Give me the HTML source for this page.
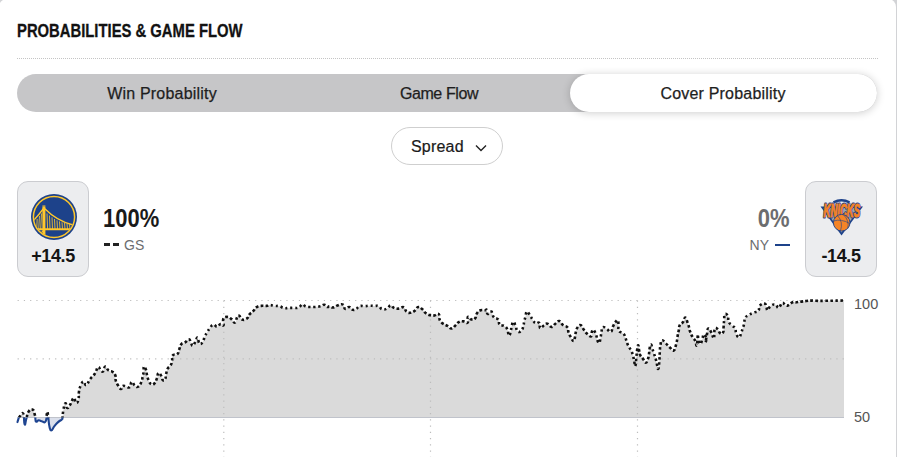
<!DOCTYPE html>
<html><head><meta charset="utf-8">
<style>
html,body{margin:0;padding:0;}
body{width:897px;height:457px;overflow:hidden;background:#d2d3d6;position:relative;font-family:"Liberation Sans",sans-serif;color:#1a1a1a;}
.card{position:absolute;left:-1px;top:-1px;width:897px;height:470px;background:#fff;border-radius:8px;}
.abs{position:absolute;}
.title{left:17px;top:20px;font-weight:bold;font-size:18px;line-height:22px;white-space:nowrap;transform-origin:0 0;transform:scaleX(0.823);color:#121212;letter-spacing:0px;-webkit-text-stroke:0.3px #121212;}
.hr{left:17px;top:58px;width:861px;height:0;border-top:1px dotted #c4c4c4;}
.tabs{left:17px;top:74px;width:860px;height:38px;background:#c6c6c8;border-radius:19px;}
.tab{position:absolute;top:1px;height:38px;line-height:38px;text-align:center;font-size:16px;color:#1e1e1e;-webkit-text-stroke:0.25px #1e1e1e;}
.active{position:absolute;left:553px;top:0;width:307px;height:38px;background:#fff;border-radius:19px;box-shadow:0 1px 9px rgba(0,0,0,.2);}
.spread{left:391px;top:127px;width:110px;height:36px;border:1px solid #cfcfcf;border-radius:19px;background:#fff;}
.team{top:181px;width:70px;height:94px;background:#ecedef;border:1px solid #cbccd0;border-radius:11px;}
.odds{position:absolute;left:0;width:70px;top:64px;text-align:center;font-weight:bold;font-size:18px;line-height:20px;color:#151515;letter-spacing:-0.4px;}
.pct{font-weight:bold;font-size:26px;line-height:28px;white-space:nowrap;transform:scaleX(0.845);}
.abbr{font-size:14px;line-height:16px;color:#6c6d6f;white-space:nowrap;}
.lbl{font-size:15px;line-height:16px;color:#48494a;}
</style></head><body>
<div class="card"></div>
<div class="abs title">PROBABILITIES &amp; GAME FLOW</div>
<div class="abs hr"></div>
<div class="abs tabs">
  <div class="tab" style="left:45px;width:200px;letter-spacing:0.2px;">Win Probability</div>
  <div class="tab" style="left:322px;width:200px;letter-spacing:-0.4px;">Game Flow</div>
  <div class="active"></div>
  <div class="tab" style="left:606px;width:200px;letter-spacing:0.2px;">Cover Probability</div>
</div>
<div class="abs spread">
  <div class="abs" style="left:19px;top:0;height:36px;line-height:37px;font-size:16px;letter-spacing:0.2px;color:#1a1a1a;-webkit-text-stroke:0.2px #1a1a1a;">Spread</div>
  <svg class="abs" style="left:83px;top:16px" width="12" height="8" viewBox="0 0 12 8"><path d="M1,1.5 L6,6.5 L11,1.5" fill="none" stroke="#222" stroke-width="1.4"/></svg>
</div>

<div class="abs team" style="left:17px;">
  <svg class="abs" style="left:13px;top:12px" width="46" height="46" viewBox="0 0 46 46">
    <defs><clipPath id="gsc"><circle cx="23" cy="23" r="20"/></clipPath></defs>
    <circle cx="23" cy="23" r="23" fill="#1d428a"/>
    <g stroke="#ffc72c" fill="none" clip-path="url(#gsc)">
      <path d="M0,35.2 L46,35.2" stroke-width="2"/>
      <path d="M12.9,13 L12.9,45" stroke-width="3"/>
      <path d="M11.4,12.2 L14.4,12.2" stroke-width="1.2"/>
      <path d="M13.5,14.5 Q26,27 42,31" stroke-width="1.4"/>
      <path d="M12.5,14.5 Q7,22 1,28" stroke-width="1.3"/>
      <path d="M16,19.5 L16.6,35 M18.5,21.5 L19,35 M21,23.3 L21.5,35 M23.5,25 L24,35 M26,26.3 L26.5,35 M28.5,27.4 L29,35 M31,28.3 L31.5,35 M33.5,29 L34,35 M36,29.7 L36.5,35 M38.5,30.3 L39,35" stroke-width="0.85"/>
      <path d="M10.5,19.5 L9.7,35 M8.5,22 L7.7,35 M6.2,25 L5.7,35" stroke-width="0.85"/>
      <path d="M8,41 Q10.5,37 12.9,37" stroke-width="1"/>
    </g>
    <circle cx="23" cy="23" r="20.6" fill="none" stroke="#ffc72c" stroke-width="1.5"/>
  </svg>
  <div class="odds">+14.5</div>
</div>
<div class="abs pct" style="left:103px;top:204px;transform-origin:0 0;">100%</div>
<div class="abs" style="left:104px;top:243px;width:6px;height:3px;background:#222;"></div>
<div class="abs" style="left:113px;top:243px;width:6px;height:3px;background:#222;"></div>
<div class="abs abbr" style="left:124px;top:237px;">GS</div>

<div class="abs pct" style="right:107px;top:204px;color:#6c6d6f;transform-origin:100% 0;">0%</div>
<div class="abs abbr" style="right:128px;top:237px;">NY</div>
<div class="abs" style="left:775px;top:244px;width:15px;height:2px;background:#1d428a;"></div>

<div class="abs team" style="left:805px;">
  <svg class="abs" style="left:14px;top:16px" width="44" height="40" viewBox="0 0 44 40">
    <path d="M0.5,8.5 L43,8.5 L21.5,37.5 Z" fill="#1d428a"/>
    <path d="M3.5,10 L40,10 L21.5,34.5 Z" fill="#a3a8ab"/>
    <path d="M13.5,4.3 Q21.5,0.3 29.5,4.3" fill="none" stroke="#1d428a" stroke-width="2.6"/>
    <g transform="translate(21.8,19.4) scale(0.5,1)" font-family="Liberation Sans" font-weight="bold" font-style="italic" font-size="19" text-anchor="middle"><text x="0" y="0" fill="#1d428a" stroke="#1d428a" stroke-width="3.2" stroke-linejoin="round">KNICKS</text><text x="0" y="0" fill="#f58426" stroke="#f58426" stroke-width="1.2">KNICKS</text></g>
    <circle cx="21.7" cy="24.7" r="8.3" fill="#f58426" stroke="#1d428a" stroke-width="0.9"/>
    <path d="M13.6,23 Q21,20.5 29.8,25.5 M17.5,17.5 Q23.5,24 20.5,32.8 M23.5,16.7 Q29.5,22.5 27.8,30.5" fill="none" stroke="#1d428a" stroke-width="0.6"/>
  </svg>
  <div class="odds">-14.5</div>
</div>

<svg class="abs" style="left:0;top:0" width="897" height="457" viewBox="0 0 897 457">
  <defs>
    <clipPath id="above"><rect x="0" y="0" width="897" height="417.5"/></clipPath>
    <clipPath id="below"><rect x="0" y="417.5" width="897" height="100"/></clipPath>
  </defs>
  <path d="M17.5,422.1 C17.7,421.3 17.8,420.6 18.4,419.1 C19.0,417.6 18.4,418.0 19.7,416.6 C21.0,415.2 21.9,411.7 23.2,413.8 C24.5,415.9 23.7,423.2 24.6,424.4 C25.5,425.6 25.3,421.8 26.4,418.4 C27.5,415.0 27.0,413.8 28.7,411.5 C30.4,409.2 31.2,409.0 32.8,409.7 C34.4,410.4 34.0,412.1 34.7,414.3 C35.4,416.5 34.9,416.0 35.3,418.0 C35.7,420.0 35.2,421.1 36.1,421.7 C37.0,422.3 37.3,420.4 38.8,420.3 C40.3,420.2 39.8,421.0 41.6,421.2 C43.4,421.4 44.2,423.7 45.7,421.2 C47.2,418.7 46.4,413.1 47.1,412.0 C47.8,410.9 47.6,413.2 48.2,417.0 C48.8,420.8 48.6,422.6 49.4,426.2 C50.2,429.8 49.9,430.4 51.2,430.4 C52.5,430.4 52.6,428.4 54.4,426.2 C56.2,424.0 56.1,423.9 58.1,422.1 C60.1,420.3 60.6,420.6 61.8,419.4 C63.0,418.2 62.1,419.9 62.5,417.5 C62.9,415.1 62.6,414.3 63.3,410.5 C64.0,406.7 64.3,404.0 65.3,403.3 C66.3,402.6 66.0,407.4 67.2,407.9 C68.4,408.4 68.0,407.9 69.8,405.3 C71.6,402.7 72.2,398.7 73.8,398.0 C75.4,397.3 74.6,402.2 75.8,402.7 C77.0,403.2 77.5,403.0 78.4,400.0 C79.3,397.0 78.3,395.5 79.0,391.5 C79.7,387.5 79.8,387.6 81.0,385.0 C82.2,382.4 82.2,381.7 83.6,381.7 C85.0,381.7 84.5,385.7 86.3,385.0 C88.1,384.3 87.9,382.0 90.2,379.0 C92.5,376.0 92.7,376.9 94.8,373.8 C96.9,370.7 96.5,368.1 98.1,367.2 C99.7,366.3 99.3,369.4 100.7,370.5 C102.1,371.6 102.1,372.2 103.3,371.2 C104.5,370.2 103.9,366.8 105.3,366.6 C106.7,366.4 106.7,369.1 108.6,370.5 C110.5,371.9 110.7,370.5 112.5,371.8 C114.3,373.1 114.4,373.0 115.3,375.3 C116.2,377.6 115.1,377.8 115.7,380.3 C116.3,382.8 116.1,382.2 117.5,384.5 C118.9,386.8 119.5,388.5 120.9,388.9 C122.3,389.3 121.6,386.7 122.9,386.0 C124.2,385.3 124.0,386.0 125.8,386.3 C127.6,386.6 128.0,388.3 129.6,387.2 C131.2,386.1 130.3,382.5 131.7,382.0 C133.1,381.5 133.0,384.0 134.7,385.3 C136.4,386.6 136.4,387.6 138.2,386.7 C140.0,385.8 140.2,384.6 141.4,382.0 C142.6,379.4 142.0,379.8 142.6,377.1 C143.2,374.4 143.3,374.5 143.6,371.7 C143.9,368.9 143.3,367.2 143.9,366.7 C144.5,366.2 145.2,367.5 146.0,369.7 C146.8,371.9 146.3,372.4 147.0,375.1 C147.7,377.8 147.4,377.5 148.5,380.0 C149.6,382.5 149.7,383.4 151.3,384.3 C152.9,385.2 152.9,385.1 154.4,383.5 C155.9,381.9 155.9,381.1 156.9,378.4 C157.9,375.7 157.3,374.1 158.3,373.2 C159.3,372.3 159.6,373.3 160.8,375.1 C162.0,376.9 161.6,378.9 162.8,380.0 C164.0,381.1 164.3,380.8 165.2,379.1 C166.1,377.4 165.5,376.4 166.2,373.6 C166.9,370.8 166.5,370.9 167.7,368.7 C168.9,366.5 169.5,367.4 170.7,365.3 C171.9,363.2 171.6,363.4 172.1,360.8 C172.6,358.2 171.2,357.3 172.6,355.5 C174.0,353.7 175.4,355.8 177.2,354.2 C179.0,352.6 178.1,352.2 179.2,349.6 C180.3,347.0 179.6,346.3 181.2,344.4 C182.8,342.5 183.0,343.7 185.1,342.4 C187.2,341.1 187.4,339.2 189.0,339.4 C190.6,339.6 189.9,341.4 191.0,343.1 C192.1,344.8 191.8,346.2 193.0,345.7 C194.2,345.2 194.4,343.2 195.6,341.1 C196.8,339.0 196.6,337.1 197.6,337.8 C198.6,338.5 198.1,342.6 199.5,343.7 C200.9,344.8 201.4,343.7 202.8,341.8 C204.2,339.9 203.6,339.1 204.8,336.5 C206.0,333.9 206.0,334.2 207.4,331.9 C208.8,329.6 208.4,329.9 210.0,328.0 C211.6,326.1 211.4,325.0 213.3,324.7 C215.2,324.4 215.4,326.9 217.3,326.7 C219.2,326.5 218.8,324.4 220.5,324.0 C222.2,323.6 222.8,326.5 223.5,325.2 C224.2,323.9 222.4,321.3 223.3,319.1 C224.2,316.9 224.8,316.9 227.0,316.9 C229.2,316.9 229.3,317.6 231.4,319.1 C233.5,320.6 233.4,323.1 234.9,322.6 C236.4,322.1 236.0,319.1 237.1,317.3 C238.2,315.5 237.9,315.2 239.2,315.8 C240.5,316.4 239.9,318.8 241.9,319.5 C243.9,320.2 244.6,320.0 246.7,318.6 C248.8,317.2 248.0,316.2 249.7,314.2 C251.4,312.2 251.3,313.1 253.2,311.2 C255.1,309.3 254.6,308.6 256.7,307.2 C258.8,305.8 258.5,306.2 261.1,305.9 C263.7,305.6 264.1,306.1 266.4,305.9 C268.7,305.7 267.7,305.1 269.9,305.1 C272.1,305.1 272.1,305.6 274.7,305.9 C277.3,306.2 277.0,305.6 279.5,306.2 C282.0,306.8 281.4,307.6 283.9,308.1 C286.4,308.6 286.3,308.0 289.0,307.9 C291.7,307.8 291.3,308.0 293.9,307.9 C296.5,307.8 296.5,308.4 298.8,307.5 C301.1,306.6 300.5,304.6 302.4,304.4 C304.3,304.2 303.7,305.9 306.0,306.6 C308.3,307.3 308.3,306.9 310.9,307.0 C313.5,307.1 313.2,307.1 315.8,306.9 C318.4,306.7 318.4,306.8 320.7,306.2 C323.0,305.6 322.5,304.6 324.3,304.8 C326.1,305.0 326.0,306.6 327.4,307.0 C328.8,307.4 328.1,306.1 329.6,306.2 C331.1,306.3 330.9,307.7 333.2,307.5 C335.5,307.3 335.5,306.1 338.1,305.3 C340.7,304.5 341.1,303.7 343.0,304.6 C344.9,305.5 343.5,308.2 345.2,308.8 C346.9,309.4 347.2,306.8 349.2,307.0 C351.2,307.2 351.0,309.1 352.8,309.7 C354.6,310.3 354.1,310.2 355.9,309.3 C357.7,308.4 357.2,307.0 359.5,306.2 C361.8,305.4 361.9,306.3 364.5,306.2 C367.1,306.1 366.8,305.8 369.4,305.7 C372.0,305.6 371.8,305.9 374.3,306.0 C376.8,306.1 376.6,305.3 378.7,306.2 C380.8,307.1 380.0,308.7 382.3,309.3 C384.6,309.9 384.9,309.5 387.2,308.4 C389.5,307.3 389.0,305.4 390.8,305.3 C392.6,305.2 391.8,307.0 393.9,307.9 C396.0,308.8 396.2,308.8 398.8,308.6 C401.4,308.4 401.7,306.5 403.7,307.3 C405.7,308.1 404.6,310.0 406.4,311.5 C408.2,313.0 408.1,313.0 410.4,312.8 C412.7,312.6 412.8,312.1 414.9,310.6 C417.0,309.1 416.4,307.3 418.4,307.0 C420.4,306.7 420.4,307.6 422.4,309.3 C424.4,311.0 423.8,311.7 426.0,313.3 C428.2,314.9 428.1,314.8 430.5,315.3 C432.9,315.8 432.9,315.7 434.9,315.3 C436.9,314.9 436.9,313.6 438.1,313.8 C439.3,314.0 439.0,314.3 439.5,316.1 C440.0,317.9 439.0,318.5 439.9,320.5 C440.8,322.5 441.0,322.2 443.0,323.6 C445.0,325.0 445.2,324.6 447.5,325.9 C449.8,327.2 449.4,328.6 451.5,328.5 C453.6,328.4 453.5,327.2 455.5,325.4 C457.5,323.6 457.0,323.0 459.1,321.9 C461.2,320.8 461.2,321.2 463.5,321.4 C465.8,321.6 466.4,323.9 467.6,322.7 C468.8,321.5 466.9,317.7 468.0,316.9 C469.1,316.1 469.7,319.2 471.6,319.6 C473.5,320.0 473.7,320.0 475.1,318.3 C476.5,316.6 475.5,315.5 476.9,313.4 C478.3,311.3 478.3,311.1 480.5,310.3 C482.7,309.5 483.3,310.4 485.0,310.3 C486.7,310.2 486.0,308.9 486.7,309.8 C487.4,310.7 486.4,313.3 487.6,313.8 C488.8,314.3 490.0,311.7 491.2,311.6 C492.4,311.5 491.3,311.7 492.1,313.4 C492.9,315.1 492.6,316.1 494.3,317.8 C496.0,319.5 496.9,317.7 498.3,319.6 C499.7,321.5 498.2,323.3 499.7,325.0 C501.2,326.7 502.1,324.8 504.1,325.9 C506.1,327.0 505.9,326.5 507.2,329.1 C508.5,331.7 508.0,335.0 509.0,335.5 C510.0,336.0 510.1,333.4 510.8,330.9 C511.5,328.4 511.0,328.4 511.7,326.0 C512.4,323.6 512.4,321.9 513.5,322.0 C514.6,322.1 514.6,323.9 515.7,326.4 C516.8,328.9 516.1,330.1 517.5,331.3 C518.9,332.5 519.6,332.2 521.1,330.9 C522.6,329.6 522.5,328.9 523.3,326.4 C524.1,323.9 523.6,324.1 524.2,321.5 C524.8,318.9 524.8,319.2 525.5,316.6 C526.2,314.0 525.7,312.0 526.9,311.7 C528.1,311.4 528.5,313.4 530.0,315.5 C531.5,317.6 531.2,317.6 532.7,319.7 C534.2,321.8 534.0,322.5 535.8,323.3 C537.6,324.1 538.1,321.5 539.3,322.8 C540.5,324.1 539.0,327.5 540.2,328.2 C541.4,328.9 541.9,326.7 543.8,325.5 C545.7,324.3 545.4,323.3 547.4,323.7 C549.4,324.1 549.3,326.9 551.4,326.9 C553.5,326.9 553.3,325.2 555.4,323.7 C557.5,322.2 557.4,320.7 559.4,321.1 C561.4,321.5 560.9,323.4 563.0,325.1 C565.1,326.8 565.9,325.4 567.4,327.3 C568.9,329.2 567.6,329.7 568.5,332.2 C569.4,334.7 569.2,334.3 570.6,336.7 C572.0,339.1 572.5,341.0 573.7,341.1 C574.9,341.2 574.4,339.6 575.0,337.1 C575.6,334.6 575.2,334.4 575.9,331.8 C576.6,329.2 576.4,329.0 577.7,327.3 C579.0,325.6 579.1,324.6 580.8,325.3 C582.5,326.0 582.3,327.8 584.0,330.0 C585.7,332.2 585.2,332.0 587.1,333.7 C589.0,335.4 589.9,336.8 591.2,336.2 C592.5,335.6 591.3,332.8 592.0,331.3 C592.7,329.8 592.7,329.4 593.8,330.4 C594.9,331.4 595.1,332.3 596.1,334.9 C597.1,337.5 596.6,338.1 597.4,340.2 C598.2,342.3 598.4,343.5 599.2,342.9 C600.0,342.3 599.9,340.7 600.5,338.0 C601.1,335.3 600.8,335.6 601.4,332.7 C602.0,329.8 601.3,328.3 602.7,327.3 C604.1,326.3 604.6,327.9 606.8,329.1 C609.0,330.3 609.1,332.5 610.8,331.8 C612.5,331.1 611.8,328.9 613.0,326.4 C614.2,323.9 613.9,323.9 615.2,322.4 C616.5,320.9 617.0,319.5 617.9,320.6 C618.8,321.7 618.2,323.7 618.4,326.4 C618.6,329.1 617.5,329.0 618.8,330.9 C620.1,332.8 621.5,331.6 623.3,333.5 C625.1,335.4 624.5,335.3 625.5,337.9 C626.5,340.5 626.1,340.6 627.1,343.1 C628.1,345.6 628.1,345.2 629.3,347.4 C630.5,349.6 630.5,349.0 631.5,351.3 C632.5,353.6 632.4,353.6 633.1,356.2 C633.8,358.8 633.6,358.5 634.2,361.1 C634.8,363.7 634.7,367.2 635.3,366.0 C635.9,364.8 635.9,360.8 636.4,356.7 C636.9,352.6 636.5,353.8 637.0,350.7 C637.5,347.6 637.5,345.3 638.1,345.2 C638.7,345.1 638.5,347.6 639.1,350.2 C639.7,352.8 639.2,352.8 640.2,355.1 C641.2,357.4 641.5,356.9 643.0,358.9 C644.5,360.9 644.4,362.7 645.7,362.7 C647.0,362.7 647.0,361.2 647.9,358.9 C648.8,356.6 648.6,356.6 649.0,354.0 C649.4,351.4 649.0,351.6 649.5,349.1 C650.0,346.6 650.2,344.7 650.9,344.5 C651.6,344.3 651.5,346.1 652.3,348.5 C653.1,350.9 653.0,350.8 653.9,353.4 C654.8,356.0 654.9,355.8 655.6,358.4 C656.3,361.0 656.0,360.5 656.7,363.3 C657.4,366.1 657.6,369.7 658.3,368.8 C659.0,367.9 659.0,365.0 659.4,360.0 C659.8,355.0 659.6,354.3 659.9,350.2 C660.2,346.1 659.9,347.3 660.5,344.7 C661.1,342.1 660.6,340.6 662.1,340.3 C663.6,340.0 663.9,341.7 666.0,343.6 C668.1,345.5 667.7,345.6 669.8,347.4 C671.9,349.2 672.0,351.2 673.7,350.5 C675.4,349.8 675.1,347.7 676.0,344.9 C676.9,342.1 676.6,342.5 677.1,340.0 C677.6,337.5 677.2,338.2 677.7,335.6 C678.2,333.0 678.2,333.0 678.8,330.2 C679.4,327.4 678.7,327.4 679.8,325.2 C680.9,323.0 681.6,324.0 683.1,322.0 C684.6,320.0 684.1,317.5 685.3,317.6 C686.5,317.7 686.5,319.9 687.5,322.5 C688.5,325.1 688.4,324.9 689.1,327.4 C689.8,329.9 689.3,329.3 690.2,331.8 C691.1,334.3 691.1,334.4 692.4,336.7 C693.7,339.0 694.0,338.3 695.2,340.6 C696.4,342.9 696.1,346.9 696.8,345.3 C697.5,343.7 697.5,335.9 697.9,334.5 C698.3,333.1 697.7,337.5 698.4,340.0 C699.1,342.5 699.6,344.1 700.6,343.8 C701.6,343.5 701.4,341.4 702.3,338.9 C703.2,336.4 702.9,334.8 703.9,334.5 C704.9,334.2 705.6,335.7 706.1,337.8 C706.6,339.9 705.3,343.5 705.6,342.2 C705.9,340.9 706.5,336.6 707.2,332.9 C707.9,329.2 707.3,328.8 708.3,328.5 C709.3,328.2 709.5,329.2 711.0,331.8 C712.5,334.4 712.9,337.8 713.8,338.4 C714.7,339.0 714.0,336.6 714.3,334.0 C714.6,331.4 714.0,329.8 714.9,328.5 C715.8,327.2 716.2,327.8 717.6,329.1 C719.0,330.4 718.8,332.5 720.3,333.4 C721.8,334.3 722.2,334.1 723.1,332.4 C724.0,330.7 723.3,330.4 723.6,326.9 C723.9,323.4 723.9,322.6 724.2,319.2 C724.5,315.8 723.7,315.2 724.7,314.3 C725.7,313.4 727.0,314.1 728.0,316.0 C729.0,317.9 727.5,318.9 728.5,321.4 C729.5,323.9 730.0,323.3 731.8,325.2 C733.6,327.1 733.9,326.3 735.1,328.5 C736.3,330.7 735.2,331.1 736.2,333.4 C737.2,335.7 737.6,337.3 738.9,337.3 C740.2,337.3 740.1,335.9 741.1,333.4 C742.1,330.9 741.9,330.7 742.8,328.0 C743.7,325.3 743.8,325.7 744.4,323.1 C745.0,320.5 743.8,320.3 744.9,318.2 C746.0,316.1 746.3,316.6 748.6,315.1 C750.9,313.6 750.9,313.8 753.5,312.7 C756.1,311.6 756.8,312.6 758.4,310.8 C760.0,309.0 758.0,307.8 759.6,305.9 C761.2,304.0 762.7,303.2 764.5,303.5 C766.3,303.8 765.6,305.4 766.4,307.2 C767.2,309.0 766.5,310.5 767.6,310.2 C768.7,309.9 768.6,307.4 770.7,305.9 C772.8,304.4 773.5,304.2 775.6,304.7 C777.7,305.2 776.8,308.3 778.6,307.8 C780.4,307.3 780.5,303.6 782.3,302.9 C784.1,302.2 783.8,304.7 785.4,305.3 C787.0,305.9 786.5,306.1 788.4,305.3 C790.3,304.5 790.6,303.1 792.7,302.3 C794.8,301.5 794.1,302.5 796.4,302.3 C798.7,302.1 798.7,301.9 801.3,301.6 C803.9,301.3 803.6,301.3 806.2,301.0 C808.8,300.7 808.5,300.7 811.1,300.6 C813.7,300.5 812.1,300.7 816.0,300.8 C819.9,300.9 819.2,300.9 825.8,300.8 C832.4,300.7 835.7,300.7 840.6,300.6 C845.5,300.5 843.1,300.6 844.0,300.6 L844.0,417.5 L17.5,417.5 Z" fill="#dadada" clip-path="url(#above)"/>
  <path d="M17.5,422.1 C17.7,421.3 17.8,420.6 18.4,419.1 C19.0,417.6 18.4,418.0 19.7,416.6 C21.0,415.2 21.9,411.7 23.2,413.8 C24.5,415.9 23.7,423.2 24.6,424.4 C25.5,425.6 25.3,421.8 26.4,418.4 C27.5,415.0 27.0,413.8 28.7,411.5 C30.4,409.2 31.2,409.0 32.8,409.7 C34.4,410.4 34.0,412.1 34.7,414.3 C35.4,416.5 34.9,416.0 35.3,418.0 C35.7,420.0 35.2,421.1 36.1,421.7 C37.0,422.3 37.3,420.4 38.8,420.3 C40.3,420.2 39.8,421.0 41.6,421.2 C43.4,421.4 44.2,423.7 45.7,421.2 C47.2,418.7 46.4,413.1 47.1,412.0 C47.8,410.9 47.6,413.2 48.2,417.0 C48.8,420.8 48.6,422.6 49.4,426.2 C50.2,429.8 49.9,430.4 51.2,430.4 C52.5,430.4 52.6,428.4 54.4,426.2 C56.2,424.0 56.1,423.9 58.1,422.1 C60.1,420.3 60.6,420.6 61.8,419.4 C63.0,418.2 62.1,419.9 62.5,417.5 C62.9,415.1 62.6,414.3 63.3,410.5 C64.0,406.7 64.3,404.0 65.3,403.3 C66.3,402.6 66.0,407.4 67.2,407.9 C68.4,408.4 68.0,407.9 69.8,405.3 C71.6,402.7 72.2,398.7 73.8,398.0 C75.4,397.3 74.6,402.2 75.8,402.7 C77.0,403.2 77.5,403.0 78.4,400.0 C79.3,397.0 78.3,395.5 79.0,391.5 C79.7,387.5 79.8,387.6 81.0,385.0 C82.2,382.4 82.2,381.7 83.6,381.7 C85.0,381.7 84.5,385.7 86.3,385.0 C88.1,384.3 87.9,382.0 90.2,379.0 C92.5,376.0 92.7,376.9 94.8,373.8 C96.9,370.7 96.5,368.1 98.1,367.2 C99.7,366.3 99.3,369.4 100.7,370.5 C102.1,371.6 102.1,372.2 103.3,371.2 C104.5,370.2 103.9,366.8 105.3,366.6 C106.7,366.4 106.7,369.1 108.6,370.5 C110.5,371.9 110.7,370.5 112.5,371.8 C114.3,373.1 114.4,373.0 115.3,375.3 C116.2,377.6 115.1,377.8 115.7,380.3 C116.3,382.8 116.1,382.2 117.5,384.5 C118.9,386.8 119.5,388.5 120.9,388.9 C122.3,389.3 121.6,386.7 122.9,386.0 C124.2,385.3 124.0,386.0 125.8,386.3 C127.6,386.6 128.0,388.3 129.6,387.2 C131.2,386.1 130.3,382.5 131.7,382.0 C133.1,381.5 133.0,384.0 134.7,385.3 C136.4,386.6 136.4,387.6 138.2,386.7 C140.0,385.8 140.2,384.6 141.4,382.0 C142.6,379.4 142.0,379.8 142.6,377.1 C143.2,374.4 143.3,374.5 143.6,371.7 C143.9,368.9 143.3,367.2 143.9,366.7 C144.5,366.2 145.2,367.5 146.0,369.7 C146.8,371.9 146.3,372.4 147.0,375.1 C147.7,377.8 147.4,377.5 148.5,380.0 C149.6,382.5 149.7,383.4 151.3,384.3 C152.9,385.2 152.9,385.1 154.4,383.5 C155.9,381.9 155.9,381.1 156.9,378.4 C157.9,375.7 157.3,374.1 158.3,373.2 C159.3,372.3 159.6,373.3 160.8,375.1 C162.0,376.9 161.6,378.9 162.8,380.0 C164.0,381.1 164.3,380.8 165.2,379.1 C166.1,377.4 165.5,376.4 166.2,373.6 C166.9,370.8 166.5,370.9 167.7,368.7 C168.9,366.5 169.5,367.4 170.7,365.3 C171.9,363.2 171.6,363.4 172.1,360.8 C172.6,358.2 171.2,357.3 172.6,355.5 C174.0,353.7 175.4,355.8 177.2,354.2 C179.0,352.6 178.1,352.2 179.2,349.6 C180.3,347.0 179.6,346.3 181.2,344.4 C182.8,342.5 183.0,343.7 185.1,342.4 C187.2,341.1 187.4,339.2 189.0,339.4 C190.6,339.6 189.9,341.4 191.0,343.1 C192.1,344.8 191.8,346.2 193.0,345.7 C194.2,345.2 194.4,343.2 195.6,341.1 C196.8,339.0 196.6,337.1 197.6,337.8 C198.6,338.5 198.1,342.6 199.5,343.7 C200.9,344.8 201.4,343.7 202.8,341.8 C204.2,339.9 203.6,339.1 204.8,336.5 C206.0,333.9 206.0,334.2 207.4,331.9 C208.8,329.6 208.4,329.9 210.0,328.0 C211.6,326.1 211.4,325.0 213.3,324.7 C215.2,324.4 215.4,326.9 217.3,326.7 C219.2,326.5 218.8,324.4 220.5,324.0 C222.2,323.6 222.8,326.5 223.5,325.2 C224.2,323.9 222.4,321.3 223.3,319.1 C224.2,316.9 224.8,316.9 227.0,316.9 C229.2,316.9 229.3,317.6 231.4,319.1 C233.5,320.6 233.4,323.1 234.9,322.6 C236.4,322.1 236.0,319.1 237.1,317.3 C238.2,315.5 237.9,315.2 239.2,315.8 C240.5,316.4 239.9,318.8 241.9,319.5 C243.9,320.2 244.6,320.0 246.7,318.6 C248.8,317.2 248.0,316.2 249.7,314.2 C251.4,312.2 251.3,313.1 253.2,311.2 C255.1,309.3 254.6,308.6 256.7,307.2 C258.8,305.8 258.5,306.2 261.1,305.9 C263.7,305.6 264.1,306.1 266.4,305.9 C268.7,305.7 267.7,305.1 269.9,305.1 C272.1,305.1 272.1,305.6 274.7,305.9 C277.3,306.2 277.0,305.6 279.5,306.2 C282.0,306.8 281.4,307.6 283.9,308.1 C286.4,308.6 286.3,308.0 289.0,307.9 C291.7,307.8 291.3,308.0 293.9,307.9 C296.5,307.8 296.5,308.4 298.8,307.5 C301.1,306.6 300.5,304.6 302.4,304.4 C304.3,304.2 303.7,305.9 306.0,306.6 C308.3,307.3 308.3,306.9 310.9,307.0 C313.5,307.1 313.2,307.1 315.8,306.9 C318.4,306.7 318.4,306.8 320.7,306.2 C323.0,305.6 322.5,304.6 324.3,304.8 C326.1,305.0 326.0,306.6 327.4,307.0 C328.8,307.4 328.1,306.1 329.6,306.2 C331.1,306.3 330.9,307.7 333.2,307.5 C335.5,307.3 335.5,306.1 338.1,305.3 C340.7,304.5 341.1,303.7 343.0,304.6 C344.9,305.5 343.5,308.2 345.2,308.8 C346.9,309.4 347.2,306.8 349.2,307.0 C351.2,307.2 351.0,309.1 352.8,309.7 C354.6,310.3 354.1,310.2 355.9,309.3 C357.7,308.4 357.2,307.0 359.5,306.2 C361.8,305.4 361.9,306.3 364.5,306.2 C367.1,306.1 366.8,305.8 369.4,305.7 C372.0,305.6 371.8,305.9 374.3,306.0 C376.8,306.1 376.6,305.3 378.7,306.2 C380.8,307.1 380.0,308.7 382.3,309.3 C384.6,309.9 384.9,309.5 387.2,308.4 C389.5,307.3 389.0,305.4 390.8,305.3 C392.6,305.2 391.8,307.0 393.9,307.9 C396.0,308.8 396.2,308.8 398.8,308.6 C401.4,308.4 401.7,306.5 403.7,307.3 C405.7,308.1 404.6,310.0 406.4,311.5 C408.2,313.0 408.1,313.0 410.4,312.8 C412.7,312.6 412.8,312.1 414.9,310.6 C417.0,309.1 416.4,307.3 418.4,307.0 C420.4,306.7 420.4,307.6 422.4,309.3 C424.4,311.0 423.8,311.7 426.0,313.3 C428.2,314.9 428.1,314.8 430.5,315.3 C432.9,315.8 432.9,315.7 434.9,315.3 C436.9,314.9 436.9,313.6 438.1,313.8 C439.3,314.0 439.0,314.3 439.5,316.1 C440.0,317.9 439.0,318.5 439.9,320.5 C440.8,322.5 441.0,322.2 443.0,323.6 C445.0,325.0 445.2,324.6 447.5,325.9 C449.8,327.2 449.4,328.6 451.5,328.5 C453.6,328.4 453.5,327.2 455.5,325.4 C457.5,323.6 457.0,323.0 459.1,321.9 C461.2,320.8 461.2,321.2 463.5,321.4 C465.8,321.6 466.4,323.9 467.6,322.7 C468.8,321.5 466.9,317.7 468.0,316.9 C469.1,316.1 469.7,319.2 471.6,319.6 C473.5,320.0 473.7,320.0 475.1,318.3 C476.5,316.6 475.5,315.5 476.9,313.4 C478.3,311.3 478.3,311.1 480.5,310.3 C482.7,309.5 483.3,310.4 485.0,310.3 C486.7,310.2 486.0,308.9 486.7,309.8 C487.4,310.7 486.4,313.3 487.6,313.8 C488.8,314.3 490.0,311.7 491.2,311.6 C492.4,311.5 491.3,311.7 492.1,313.4 C492.9,315.1 492.6,316.1 494.3,317.8 C496.0,319.5 496.9,317.7 498.3,319.6 C499.7,321.5 498.2,323.3 499.7,325.0 C501.2,326.7 502.1,324.8 504.1,325.9 C506.1,327.0 505.9,326.5 507.2,329.1 C508.5,331.7 508.0,335.0 509.0,335.5 C510.0,336.0 510.1,333.4 510.8,330.9 C511.5,328.4 511.0,328.4 511.7,326.0 C512.4,323.6 512.4,321.9 513.5,322.0 C514.6,322.1 514.6,323.9 515.7,326.4 C516.8,328.9 516.1,330.1 517.5,331.3 C518.9,332.5 519.6,332.2 521.1,330.9 C522.6,329.6 522.5,328.9 523.3,326.4 C524.1,323.9 523.6,324.1 524.2,321.5 C524.8,318.9 524.8,319.2 525.5,316.6 C526.2,314.0 525.7,312.0 526.9,311.7 C528.1,311.4 528.5,313.4 530.0,315.5 C531.5,317.6 531.2,317.6 532.7,319.7 C534.2,321.8 534.0,322.5 535.8,323.3 C537.6,324.1 538.1,321.5 539.3,322.8 C540.5,324.1 539.0,327.5 540.2,328.2 C541.4,328.9 541.9,326.7 543.8,325.5 C545.7,324.3 545.4,323.3 547.4,323.7 C549.4,324.1 549.3,326.9 551.4,326.9 C553.5,326.9 553.3,325.2 555.4,323.7 C557.5,322.2 557.4,320.7 559.4,321.1 C561.4,321.5 560.9,323.4 563.0,325.1 C565.1,326.8 565.9,325.4 567.4,327.3 C568.9,329.2 567.6,329.7 568.5,332.2 C569.4,334.7 569.2,334.3 570.6,336.7 C572.0,339.1 572.5,341.0 573.7,341.1 C574.9,341.2 574.4,339.6 575.0,337.1 C575.6,334.6 575.2,334.4 575.9,331.8 C576.6,329.2 576.4,329.0 577.7,327.3 C579.0,325.6 579.1,324.6 580.8,325.3 C582.5,326.0 582.3,327.8 584.0,330.0 C585.7,332.2 585.2,332.0 587.1,333.7 C589.0,335.4 589.9,336.8 591.2,336.2 C592.5,335.6 591.3,332.8 592.0,331.3 C592.7,329.8 592.7,329.4 593.8,330.4 C594.9,331.4 595.1,332.3 596.1,334.9 C597.1,337.5 596.6,338.1 597.4,340.2 C598.2,342.3 598.4,343.5 599.2,342.9 C600.0,342.3 599.9,340.7 600.5,338.0 C601.1,335.3 600.8,335.6 601.4,332.7 C602.0,329.8 601.3,328.3 602.7,327.3 C604.1,326.3 604.6,327.9 606.8,329.1 C609.0,330.3 609.1,332.5 610.8,331.8 C612.5,331.1 611.8,328.9 613.0,326.4 C614.2,323.9 613.9,323.9 615.2,322.4 C616.5,320.9 617.0,319.5 617.9,320.6 C618.8,321.7 618.2,323.7 618.4,326.4 C618.6,329.1 617.5,329.0 618.8,330.9 C620.1,332.8 621.5,331.6 623.3,333.5 C625.1,335.4 624.5,335.3 625.5,337.9 C626.5,340.5 626.1,340.6 627.1,343.1 C628.1,345.6 628.1,345.2 629.3,347.4 C630.5,349.6 630.5,349.0 631.5,351.3 C632.5,353.6 632.4,353.6 633.1,356.2 C633.8,358.8 633.6,358.5 634.2,361.1 C634.8,363.7 634.7,367.2 635.3,366.0 C635.9,364.8 635.9,360.8 636.4,356.7 C636.9,352.6 636.5,353.8 637.0,350.7 C637.5,347.6 637.5,345.3 638.1,345.2 C638.7,345.1 638.5,347.6 639.1,350.2 C639.7,352.8 639.2,352.8 640.2,355.1 C641.2,357.4 641.5,356.9 643.0,358.9 C644.5,360.9 644.4,362.7 645.7,362.7 C647.0,362.7 647.0,361.2 647.9,358.9 C648.8,356.6 648.6,356.6 649.0,354.0 C649.4,351.4 649.0,351.6 649.5,349.1 C650.0,346.6 650.2,344.7 650.9,344.5 C651.6,344.3 651.5,346.1 652.3,348.5 C653.1,350.9 653.0,350.8 653.9,353.4 C654.8,356.0 654.9,355.8 655.6,358.4 C656.3,361.0 656.0,360.5 656.7,363.3 C657.4,366.1 657.6,369.7 658.3,368.8 C659.0,367.9 659.0,365.0 659.4,360.0 C659.8,355.0 659.6,354.3 659.9,350.2 C660.2,346.1 659.9,347.3 660.5,344.7 C661.1,342.1 660.6,340.6 662.1,340.3 C663.6,340.0 663.9,341.7 666.0,343.6 C668.1,345.5 667.7,345.6 669.8,347.4 C671.9,349.2 672.0,351.2 673.7,350.5 C675.4,349.8 675.1,347.7 676.0,344.9 C676.9,342.1 676.6,342.5 677.1,340.0 C677.6,337.5 677.2,338.2 677.7,335.6 C678.2,333.0 678.2,333.0 678.8,330.2 C679.4,327.4 678.7,327.4 679.8,325.2 C680.9,323.0 681.6,324.0 683.1,322.0 C684.6,320.0 684.1,317.5 685.3,317.6 C686.5,317.7 686.5,319.9 687.5,322.5 C688.5,325.1 688.4,324.9 689.1,327.4 C689.8,329.9 689.3,329.3 690.2,331.8 C691.1,334.3 691.1,334.4 692.4,336.7 C693.7,339.0 694.0,338.3 695.2,340.6 C696.4,342.9 696.1,346.9 696.8,345.3 C697.5,343.7 697.5,335.9 697.9,334.5 C698.3,333.1 697.7,337.5 698.4,340.0 C699.1,342.5 699.6,344.1 700.6,343.8 C701.6,343.5 701.4,341.4 702.3,338.9 C703.2,336.4 702.9,334.8 703.9,334.5 C704.9,334.2 705.6,335.7 706.1,337.8 C706.6,339.9 705.3,343.5 705.6,342.2 C705.9,340.9 706.5,336.6 707.2,332.9 C707.9,329.2 707.3,328.8 708.3,328.5 C709.3,328.2 709.5,329.2 711.0,331.8 C712.5,334.4 712.9,337.8 713.8,338.4 C714.7,339.0 714.0,336.6 714.3,334.0 C714.6,331.4 714.0,329.8 714.9,328.5 C715.8,327.2 716.2,327.8 717.6,329.1 C719.0,330.4 718.8,332.5 720.3,333.4 C721.8,334.3 722.2,334.1 723.1,332.4 C724.0,330.7 723.3,330.4 723.6,326.9 C723.9,323.4 723.9,322.6 724.2,319.2 C724.5,315.8 723.7,315.2 724.7,314.3 C725.7,313.4 727.0,314.1 728.0,316.0 C729.0,317.9 727.5,318.9 728.5,321.4 C729.5,323.9 730.0,323.3 731.8,325.2 C733.6,327.1 733.9,326.3 735.1,328.5 C736.3,330.7 735.2,331.1 736.2,333.4 C737.2,335.7 737.6,337.3 738.9,337.3 C740.2,337.3 740.1,335.9 741.1,333.4 C742.1,330.9 741.9,330.7 742.8,328.0 C743.7,325.3 743.8,325.7 744.4,323.1 C745.0,320.5 743.8,320.3 744.9,318.2 C746.0,316.1 746.3,316.6 748.6,315.1 C750.9,313.6 750.9,313.8 753.5,312.7 C756.1,311.6 756.8,312.6 758.4,310.8 C760.0,309.0 758.0,307.8 759.6,305.9 C761.2,304.0 762.7,303.2 764.5,303.5 C766.3,303.8 765.6,305.4 766.4,307.2 C767.2,309.0 766.5,310.5 767.6,310.2 C768.7,309.9 768.6,307.4 770.7,305.9 C772.8,304.4 773.5,304.2 775.6,304.7 C777.7,305.2 776.8,308.3 778.6,307.8 C780.4,307.3 780.5,303.6 782.3,302.9 C784.1,302.2 783.8,304.7 785.4,305.3 C787.0,305.9 786.5,306.1 788.4,305.3 C790.3,304.5 790.6,303.1 792.7,302.3 C794.8,301.5 794.1,302.5 796.4,302.3 C798.7,302.1 798.7,301.9 801.3,301.6 C803.9,301.3 803.6,301.3 806.2,301.0 C808.8,300.7 808.5,300.7 811.1,300.6 C813.7,300.5 812.1,300.7 816.0,300.8 C819.9,300.9 819.2,300.9 825.8,300.8 C832.4,300.7 835.7,300.7 840.6,300.6 C845.5,300.5 843.1,300.6 844.0,300.6 L844.0,417.5 L17.5,417.5 Z" fill="#dadfeb" clip-path="url(#below)"/>
  <g stroke="#bdbdbd" stroke-width="1.2" stroke-dasharray="1.2 5.05" fill="none">
    <path d="M17.6,300.5 L844,300.5"/>
    <path d="M17.6,358.8 L844,358.8"/>
    <path d="M223.8,300.5 L223.8,457"/>
    <path d="M430.5,300.5 L430.5,457"/>
    <path d="M637.5,300.5 L637.5,457"/>
  </g>
  <path d="M17,417.5 L844,417.5" stroke="#c0c3cb" stroke-width="1.2"/>
  <path d="M17.5,422.1 C17.7,421.3 17.8,420.6 18.4,419.1 C19.0,417.6 18.4,418.0 19.7,416.6 C21.0,415.2 21.9,411.7 23.2,413.8 C24.5,415.9 23.7,423.2 24.6,424.4 C25.5,425.6 25.3,421.8 26.4,418.4 C27.5,415.0 27.0,413.8 28.7,411.5 C30.4,409.2 31.2,409.0 32.8,409.7 C34.4,410.4 34.0,412.1 34.7,414.3 C35.4,416.5 34.9,416.0 35.3,418.0 C35.7,420.0 35.2,421.1 36.1,421.7 C37.0,422.3 37.3,420.4 38.8,420.3 C40.3,420.2 39.8,421.0 41.6,421.2 C43.4,421.4 44.2,423.7 45.7,421.2 C47.2,418.7 46.4,413.1 47.1,412.0 C47.8,410.9 47.6,413.2 48.2,417.0 C48.8,420.8 48.6,422.6 49.4,426.2 C50.2,429.8 49.9,430.4 51.2,430.4 C52.5,430.4 52.6,428.4 54.4,426.2 C56.2,424.0 56.1,423.9 58.1,422.1 C60.1,420.3 60.6,420.6 61.8,419.4 C63.0,418.2 62.1,419.9 62.5,417.5 C62.9,415.1 62.6,414.3 63.3,410.5 C64.0,406.7 64.3,404.0 65.3,403.3 C66.3,402.6 66.0,407.4 67.2,407.9 C68.4,408.4 68.0,407.9 69.8,405.3 C71.6,402.7 72.2,398.7 73.8,398.0 C75.4,397.3 74.6,402.2 75.8,402.7 C77.0,403.2 77.5,403.0 78.4,400.0 C79.3,397.0 78.3,395.5 79.0,391.5 C79.7,387.5 79.8,387.6 81.0,385.0 C82.2,382.4 82.2,381.7 83.6,381.7 C85.0,381.7 84.5,385.7 86.3,385.0 C88.1,384.3 87.9,382.0 90.2,379.0 C92.5,376.0 92.7,376.9 94.8,373.8 C96.9,370.7 96.5,368.1 98.1,367.2 C99.7,366.3 99.3,369.4 100.7,370.5 C102.1,371.6 102.1,372.2 103.3,371.2 C104.5,370.2 103.9,366.8 105.3,366.6 C106.7,366.4 106.7,369.1 108.6,370.5 C110.5,371.9 110.7,370.5 112.5,371.8 C114.3,373.1 114.4,373.0 115.3,375.3 C116.2,377.6 115.1,377.8 115.7,380.3 C116.3,382.8 116.1,382.2 117.5,384.5 C118.9,386.8 119.5,388.5 120.9,388.9 C122.3,389.3 121.6,386.7 122.9,386.0 C124.2,385.3 124.0,386.0 125.8,386.3 C127.6,386.6 128.0,388.3 129.6,387.2 C131.2,386.1 130.3,382.5 131.7,382.0 C133.1,381.5 133.0,384.0 134.7,385.3 C136.4,386.6 136.4,387.6 138.2,386.7 C140.0,385.8 140.2,384.6 141.4,382.0 C142.6,379.4 142.0,379.8 142.6,377.1 C143.2,374.4 143.3,374.5 143.6,371.7 C143.9,368.9 143.3,367.2 143.9,366.7 C144.5,366.2 145.2,367.5 146.0,369.7 C146.8,371.9 146.3,372.4 147.0,375.1 C147.7,377.8 147.4,377.5 148.5,380.0 C149.6,382.5 149.7,383.4 151.3,384.3 C152.9,385.2 152.9,385.1 154.4,383.5 C155.9,381.9 155.9,381.1 156.9,378.4 C157.9,375.7 157.3,374.1 158.3,373.2 C159.3,372.3 159.6,373.3 160.8,375.1 C162.0,376.9 161.6,378.9 162.8,380.0 C164.0,381.1 164.3,380.8 165.2,379.1 C166.1,377.4 165.5,376.4 166.2,373.6 C166.9,370.8 166.5,370.9 167.7,368.7 C168.9,366.5 169.5,367.4 170.7,365.3 C171.9,363.2 171.6,363.4 172.1,360.8 C172.6,358.2 171.2,357.3 172.6,355.5 C174.0,353.7 175.4,355.8 177.2,354.2 C179.0,352.6 178.1,352.2 179.2,349.6 C180.3,347.0 179.6,346.3 181.2,344.4 C182.8,342.5 183.0,343.7 185.1,342.4 C187.2,341.1 187.4,339.2 189.0,339.4 C190.6,339.6 189.9,341.4 191.0,343.1 C192.1,344.8 191.8,346.2 193.0,345.7 C194.2,345.2 194.4,343.2 195.6,341.1 C196.8,339.0 196.6,337.1 197.6,337.8 C198.6,338.5 198.1,342.6 199.5,343.7 C200.9,344.8 201.4,343.7 202.8,341.8 C204.2,339.9 203.6,339.1 204.8,336.5 C206.0,333.9 206.0,334.2 207.4,331.9 C208.8,329.6 208.4,329.9 210.0,328.0 C211.6,326.1 211.4,325.0 213.3,324.7 C215.2,324.4 215.4,326.9 217.3,326.7 C219.2,326.5 218.8,324.4 220.5,324.0 C222.2,323.6 222.8,326.5 223.5,325.2 C224.2,323.9 222.4,321.3 223.3,319.1 C224.2,316.9 224.8,316.9 227.0,316.9 C229.2,316.9 229.3,317.6 231.4,319.1 C233.5,320.6 233.4,323.1 234.9,322.6 C236.4,322.1 236.0,319.1 237.1,317.3 C238.2,315.5 237.9,315.2 239.2,315.8 C240.5,316.4 239.9,318.8 241.9,319.5 C243.9,320.2 244.6,320.0 246.7,318.6 C248.8,317.2 248.0,316.2 249.7,314.2 C251.4,312.2 251.3,313.1 253.2,311.2 C255.1,309.3 254.6,308.6 256.7,307.2 C258.8,305.8 258.5,306.2 261.1,305.9 C263.7,305.6 264.1,306.1 266.4,305.9 C268.7,305.7 267.7,305.1 269.9,305.1 C272.1,305.1 272.1,305.6 274.7,305.9 C277.3,306.2 277.0,305.6 279.5,306.2 C282.0,306.8 281.4,307.6 283.9,308.1 C286.4,308.6 286.3,308.0 289.0,307.9 C291.7,307.8 291.3,308.0 293.9,307.9 C296.5,307.8 296.5,308.4 298.8,307.5 C301.1,306.6 300.5,304.6 302.4,304.4 C304.3,304.2 303.7,305.9 306.0,306.6 C308.3,307.3 308.3,306.9 310.9,307.0 C313.5,307.1 313.2,307.1 315.8,306.9 C318.4,306.7 318.4,306.8 320.7,306.2 C323.0,305.6 322.5,304.6 324.3,304.8 C326.1,305.0 326.0,306.6 327.4,307.0 C328.8,307.4 328.1,306.1 329.6,306.2 C331.1,306.3 330.9,307.7 333.2,307.5 C335.5,307.3 335.5,306.1 338.1,305.3 C340.7,304.5 341.1,303.7 343.0,304.6 C344.9,305.5 343.5,308.2 345.2,308.8 C346.9,309.4 347.2,306.8 349.2,307.0 C351.2,307.2 351.0,309.1 352.8,309.7 C354.6,310.3 354.1,310.2 355.9,309.3 C357.7,308.4 357.2,307.0 359.5,306.2 C361.8,305.4 361.9,306.3 364.5,306.2 C367.1,306.1 366.8,305.8 369.4,305.7 C372.0,305.6 371.8,305.9 374.3,306.0 C376.8,306.1 376.6,305.3 378.7,306.2 C380.8,307.1 380.0,308.7 382.3,309.3 C384.6,309.9 384.9,309.5 387.2,308.4 C389.5,307.3 389.0,305.4 390.8,305.3 C392.6,305.2 391.8,307.0 393.9,307.9 C396.0,308.8 396.2,308.8 398.8,308.6 C401.4,308.4 401.7,306.5 403.7,307.3 C405.7,308.1 404.6,310.0 406.4,311.5 C408.2,313.0 408.1,313.0 410.4,312.8 C412.7,312.6 412.8,312.1 414.9,310.6 C417.0,309.1 416.4,307.3 418.4,307.0 C420.4,306.7 420.4,307.6 422.4,309.3 C424.4,311.0 423.8,311.7 426.0,313.3 C428.2,314.9 428.1,314.8 430.5,315.3 C432.9,315.8 432.9,315.7 434.9,315.3 C436.9,314.9 436.9,313.6 438.1,313.8 C439.3,314.0 439.0,314.3 439.5,316.1 C440.0,317.9 439.0,318.5 439.9,320.5 C440.8,322.5 441.0,322.2 443.0,323.6 C445.0,325.0 445.2,324.6 447.5,325.9 C449.8,327.2 449.4,328.6 451.5,328.5 C453.6,328.4 453.5,327.2 455.5,325.4 C457.5,323.6 457.0,323.0 459.1,321.9 C461.2,320.8 461.2,321.2 463.5,321.4 C465.8,321.6 466.4,323.9 467.6,322.7 C468.8,321.5 466.9,317.7 468.0,316.9 C469.1,316.1 469.7,319.2 471.6,319.6 C473.5,320.0 473.7,320.0 475.1,318.3 C476.5,316.6 475.5,315.5 476.9,313.4 C478.3,311.3 478.3,311.1 480.5,310.3 C482.7,309.5 483.3,310.4 485.0,310.3 C486.7,310.2 486.0,308.9 486.7,309.8 C487.4,310.7 486.4,313.3 487.6,313.8 C488.8,314.3 490.0,311.7 491.2,311.6 C492.4,311.5 491.3,311.7 492.1,313.4 C492.9,315.1 492.6,316.1 494.3,317.8 C496.0,319.5 496.9,317.7 498.3,319.6 C499.7,321.5 498.2,323.3 499.7,325.0 C501.2,326.7 502.1,324.8 504.1,325.9 C506.1,327.0 505.9,326.5 507.2,329.1 C508.5,331.7 508.0,335.0 509.0,335.5 C510.0,336.0 510.1,333.4 510.8,330.9 C511.5,328.4 511.0,328.4 511.7,326.0 C512.4,323.6 512.4,321.9 513.5,322.0 C514.6,322.1 514.6,323.9 515.7,326.4 C516.8,328.9 516.1,330.1 517.5,331.3 C518.9,332.5 519.6,332.2 521.1,330.9 C522.6,329.6 522.5,328.9 523.3,326.4 C524.1,323.9 523.6,324.1 524.2,321.5 C524.8,318.9 524.8,319.2 525.5,316.6 C526.2,314.0 525.7,312.0 526.9,311.7 C528.1,311.4 528.5,313.4 530.0,315.5 C531.5,317.6 531.2,317.6 532.7,319.7 C534.2,321.8 534.0,322.5 535.8,323.3 C537.6,324.1 538.1,321.5 539.3,322.8 C540.5,324.1 539.0,327.5 540.2,328.2 C541.4,328.9 541.9,326.7 543.8,325.5 C545.7,324.3 545.4,323.3 547.4,323.7 C549.4,324.1 549.3,326.9 551.4,326.9 C553.5,326.9 553.3,325.2 555.4,323.7 C557.5,322.2 557.4,320.7 559.4,321.1 C561.4,321.5 560.9,323.4 563.0,325.1 C565.1,326.8 565.9,325.4 567.4,327.3 C568.9,329.2 567.6,329.7 568.5,332.2 C569.4,334.7 569.2,334.3 570.6,336.7 C572.0,339.1 572.5,341.0 573.7,341.1 C574.9,341.2 574.4,339.6 575.0,337.1 C575.6,334.6 575.2,334.4 575.9,331.8 C576.6,329.2 576.4,329.0 577.7,327.3 C579.0,325.6 579.1,324.6 580.8,325.3 C582.5,326.0 582.3,327.8 584.0,330.0 C585.7,332.2 585.2,332.0 587.1,333.7 C589.0,335.4 589.9,336.8 591.2,336.2 C592.5,335.6 591.3,332.8 592.0,331.3 C592.7,329.8 592.7,329.4 593.8,330.4 C594.9,331.4 595.1,332.3 596.1,334.9 C597.1,337.5 596.6,338.1 597.4,340.2 C598.2,342.3 598.4,343.5 599.2,342.9 C600.0,342.3 599.9,340.7 600.5,338.0 C601.1,335.3 600.8,335.6 601.4,332.7 C602.0,329.8 601.3,328.3 602.7,327.3 C604.1,326.3 604.6,327.9 606.8,329.1 C609.0,330.3 609.1,332.5 610.8,331.8 C612.5,331.1 611.8,328.9 613.0,326.4 C614.2,323.9 613.9,323.9 615.2,322.4 C616.5,320.9 617.0,319.5 617.9,320.6 C618.8,321.7 618.2,323.7 618.4,326.4 C618.6,329.1 617.5,329.0 618.8,330.9 C620.1,332.8 621.5,331.6 623.3,333.5 C625.1,335.4 624.5,335.3 625.5,337.9 C626.5,340.5 626.1,340.6 627.1,343.1 C628.1,345.6 628.1,345.2 629.3,347.4 C630.5,349.6 630.5,349.0 631.5,351.3 C632.5,353.6 632.4,353.6 633.1,356.2 C633.8,358.8 633.6,358.5 634.2,361.1 C634.8,363.7 634.7,367.2 635.3,366.0 C635.9,364.8 635.9,360.8 636.4,356.7 C636.9,352.6 636.5,353.8 637.0,350.7 C637.5,347.6 637.5,345.3 638.1,345.2 C638.7,345.1 638.5,347.6 639.1,350.2 C639.7,352.8 639.2,352.8 640.2,355.1 C641.2,357.4 641.5,356.9 643.0,358.9 C644.5,360.9 644.4,362.7 645.7,362.7 C647.0,362.7 647.0,361.2 647.9,358.9 C648.8,356.6 648.6,356.6 649.0,354.0 C649.4,351.4 649.0,351.6 649.5,349.1 C650.0,346.6 650.2,344.7 650.9,344.5 C651.6,344.3 651.5,346.1 652.3,348.5 C653.1,350.9 653.0,350.8 653.9,353.4 C654.8,356.0 654.9,355.8 655.6,358.4 C656.3,361.0 656.0,360.5 656.7,363.3 C657.4,366.1 657.6,369.7 658.3,368.8 C659.0,367.9 659.0,365.0 659.4,360.0 C659.8,355.0 659.6,354.3 659.9,350.2 C660.2,346.1 659.9,347.3 660.5,344.7 C661.1,342.1 660.6,340.6 662.1,340.3 C663.6,340.0 663.9,341.7 666.0,343.6 C668.1,345.5 667.7,345.6 669.8,347.4 C671.9,349.2 672.0,351.2 673.7,350.5 C675.4,349.8 675.1,347.7 676.0,344.9 C676.9,342.1 676.6,342.5 677.1,340.0 C677.6,337.5 677.2,338.2 677.7,335.6 C678.2,333.0 678.2,333.0 678.8,330.2 C679.4,327.4 678.7,327.4 679.8,325.2 C680.9,323.0 681.6,324.0 683.1,322.0 C684.6,320.0 684.1,317.5 685.3,317.6 C686.5,317.7 686.5,319.9 687.5,322.5 C688.5,325.1 688.4,324.9 689.1,327.4 C689.8,329.9 689.3,329.3 690.2,331.8 C691.1,334.3 691.1,334.4 692.4,336.7 C693.7,339.0 694.0,338.3 695.2,340.6 C696.4,342.9 696.1,346.9 696.8,345.3 C697.5,343.7 697.5,335.9 697.9,334.5 C698.3,333.1 697.7,337.5 698.4,340.0 C699.1,342.5 699.6,344.1 700.6,343.8 C701.6,343.5 701.4,341.4 702.3,338.9 C703.2,336.4 702.9,334.8 703.9,334.5 C704.9,334.2 705.6,335.7 706.1,337.8 C706.6,339.9 705.3,343.5 705.6,342.2 C705.9,340.9 706.5,336.6 707.2,332.9 C707.9,329.2 707.3,328.8 708.3,328.5 C709.3,328.2 709.5,329.2 711.0,331.8 C712.5,334.4 712.9,337.8 713.8,338.4 C714.7,339.0 714.0,336.6 714.3,334.0 C714.6,331.4 714.0,329.8 714.9,328.5 C715.8,327.2 716.2,327.8 717.6,329.1 C719.0,330.4 718.8,332.5 720.3,333.4 C721.8,334.3 722.2,334.1 723.1,332.4 C724.0,330.7 723.3,330.4 723.6,326.9 C723.9,323.4 723.9,322.6 724.2,319.2 C724.5,315.8 723.7,315.2 724.7,314.3 C725.7,313.4 727.0,314.1 728.0,316.0 C729.0,317.9 727.5,318.9 728.5,321.4 C729.5,323.9 730.0,323.3 731.8,325.2 C733.6,327.1 733.9,326.3 735.1,328.5 C736.3,330.7 735.2,331.1 736.2,333.4 C737.2,335.7 737.6,337.3 738.9,337.3 C740.2,337.3 740.1,335.9 741.1,333.4 C742.1,330.9 741.9,330.7 742.8,328.0 C743.7,325.3 743.8,325.7 744.4,323.1 C745.0,320.5 743.8,320.3 744.9,318.2 C746.0,316.1 746.3,316.6 748.6,315.1 C750.9,313.6 750.9,313.8 753.5,312.7 C756.1,311.6 756.8,312.6 758.4,310.8 C760.0,309.0 758.0,307.8 759.6,305.9 C761.2,304.0 762.7,303.2 764.5,303.5 C766.3,303.8 765.6,305.4 766.4,307.2 C767.2,309.0 766.5,310.5 767.6,310.2 C768.7,309.9 768.6,307.4 770.7,305.9 C772.8,304.4 773.5,304.2 775.6,304.7 C777.7,305.2 776.8,308.3 778.6,307.8 C780.4,307.3 780.5,303.6 782.3,302.9 C784.1,302.2 783.8,304.7 785.4,305.3 C787.0,305.9 786.5,306.1 788.4,305.3 C790.3,304.5 790.6,303.1 792.7,302.3 C794.8,301.5 794.1,302.5 796.4,302.3 C798.7,302.1 798.7,301.9 801.3,301.6 C803.9,301.3 803.6,301.3 806.2,301.0 C808.8,300.7 808.5,300.7 811.1,300.6 C813.7,300.5 812.1,300.7 816.0,300.8 C819.9,300.9 819.2,300.9 825.8,300.8 C832.4,300.7 835.7,300.7 840.6,300.6 C845.5,300.5 843.1,300.6 844.0,300.6" fill="none" stroke="#111" stroke-width="2.6" stroke-dasharray="2.5 2.5" stroke-linejoin="round" clip-path="url(#above)"/>
  <path d="M17.5,422.1 C17.7,421.3 17.8,420.6 18.4,419.1 C19.0,417.6 18.4,418.0 19.7,416.6 C21.0,415.2 21.9,411.7 23.2,413.8 C24.5,415.9 23.7,423.2 24.6,424.4 C25.5,425.6 25.3,421.8 26.4,418.4 C27.5,415.0 27.0,413.8 28.7,411.5 C30.4,409.2 31.2,409.0 32.8,409.7 C34.4,410.4 34.0,412.1 34.7,414.3 C35.4,416.5 34.9,416.0 35.3,418.0 C35.7,420.0 35.2,421.1 36.1,421.7 C37.0,422.3 37.3,420.4 38.8,420.3 C40.3,420.2 39.8,421.0 41.6,421.2 C43.4,421.4 44.2,423.7 45.7,421.2 C47.2,418.7 46.4,413.1 47.1,412.0 C47.8,410.9 47.6,413.2 48.2,417.0 C48.8,420.8 48.6,422.6 49.4,426.2 C50.2,429.8 49.9,430.4 51.2,430.4 C52.5,430.4 52.6,428.4 54.4,426.2 C56.2,424.0 56.1,423.9 58.1,422.1 C60.1,420.3 60.6,420.6 61.8,419.4 C63.0,418.2 62.1,419.9 62.5,417.5 C62.9,415.1 62.6,414.3 63.3,410.5 C64.0,406.7 64.3,404.0 65.3,403.3 C66.3,402.6 66.0,407.4 67.2,407.9 C68.4,408.4 68.0,407.9 69.8,405.3 C71.6,402.7 72.2,398.7 73.8,398.0 C75.4,397.3 74.6,402.2 75.8,402.7 C77.0,403.2 77.5,403.0 78.4,400.0 C79.3,397.0 78.3,395.5 79.0,391.5 C79.7,387.5 79.8,387.6 81.0,385.0 C82.2,382.4 82.2,381.7 83.6,381.7 C85.0,381.7 84.5,385.7 86.3,385.0 C88.1,384.3 87.9,382.0 90.2,379.0 C92.5,376.0 92.7,376.9 94.8,373.8 C96.9,370.7 96.5,368.1 98.1,367.2 C99.7,366.3 99.3,369.4 100.7,370.5 C102.1,371.6 102.1,372.2 103.3,371.2 C104.5,370.2 103.9,366.8 105.3,366.6 C106.7,366.4 106.7,369.1 108.6,370.5 C110.5,371.9 110.7,370.5 112.5,371.8 C114.3,373.1 114.4,373.0 115.3,375.3 C116.2,377.6 115.1,377.8 115.7,380.3 C116.3,382.8 116.1,382.2 117.5,384.5 C118.9,386.8 119.5,388.5 120.9,388.9 C122.3,389.3 121.6,386.7 122.9,386.0 C124.2,385.3 124.0,386.0 125.8,386.3 C127.6,386.6 128.0,388.3 129.6,387.2 C131.2,386.1 130.3,382.5 131.7,382.0 C133.1,381.5 133.0,384.0 134.7,385.3 C136.4,386.6 136.4,387.6 138.2,386.7 C140.0,385.8 140.2,384.6 141.4,382.0 C142.6,379.4 142.0,379.8 142.6,377.1 C143.2,374.4 143.3,374.5 143.6,371.7 C143.9,368.9 143.3,367.2 143.9,366.7 C144.5,366.2 145.2,367.5 146.0,369.7 C146.8,371.9 146.3,372.4 147.0,375.1 C147.7,377.8 147.4,377.5 148.5,380.0 C149.6,382.5 149.7,383.4 151.3,384.3 C152.9,385.2 152.9,385.1 154.4,383.5 C155.9,381.9 155.9,381.1 156.9,378.4 C157.9,375.7 157.3,374.1 158.3,373.2 C159.3,372.3 159.6,373.3 160.8,375.1 C162.0,376.9 161.6,378.9 162.8,380.0 C164.0,381.1 164.3,380.8 165.2,379.1 C166.1,377.4 165.5,376.4 166.2,373.6 C166.9,370.8 166.5,370.9 167.7,368.7 C168.9,366.5 169.5,367.4 170.7,365.3 C171.9,363.2 171.6,363.4 172.1,360.8 C172.6,358.2 171.2,357.3 172.6,355.5 C174.0,353.7 175.4,355.8 177.2,354.2 C179.0,352.6 178.1,352.2 179.2,349.6 C180.3,347.0 179.6,346.3 181.2,344.4 C182.8,342.5 183.0,343.7 185.1,342.4 C187.2,341.1 187.4,339.2 189.0,339.4 C190.6,339.6 189.9,341.4 191.0,343.1 C192.1,344.8 191.8,346.2 193.0,345.7 C194.2,345.2 194.4,343.2 195.6,341.1 C196.8,339.0 196.6,337.1 197.6,337.8 C198.6,338.5 198.1,342.6 199.5,343.7 C200.9,344.8 201.4,343.7 202.8,341.8 C204.2,339.9 203.6,339.1 204.8,336.5 C206.0,333.9 206.0,334.2 207.4,331.9 C208.8,329.6 208.4,329.9 210.0,328.0 C211.6,326.1 211.4,325.0 213.3,324.7 C215.2,324.4 215.4,326.9 217.3,326.7 C219.2,326.5 218.8,324.4 220.5,324.0 C222.2,323.6 222.8,326.5 223.5,325.2 C224.2,323.9 222.4,321.3 223.3,319.1 C224.2,316.9 224.8,316.9 227.0,316.9 C229.2,316.9 229.3,317.6 231.4,319.1 C233.5,320.6 233.4,323.1 234.9,322.6 C236.4,322.1 236.0,319.1 237.1,317.3 C238.2,315.5 237.9,315.2 239.2,315.8 C240.5,316.4 239.9,318.8 241.9,319.5 C243.9,320.2 244.6,320.0 246.7,318.6 C248.8,317.2 248.0,316.2 249.7,314.2 C251.4,312.2 251.3,313.1 253.2,311.2 C255.1,309.3 254.6,308.6 256.7,307.2 C258.8,305.8 258.5,306.2 261.1,305.9 C263.7,305.6 264.1,306.1 266.4,305.9 C268.7,305.7 267.7,305.1 269.9,305.1 C272.1,305.1 272.1,305.6 274.7,305.9 C277.3,306.2 277.0,305.6 279.5,306.2 C282.0,306.8 281.4,307.6 283.9,308.1 C286.4,308.6 286.3,308.0 289.0,307.9 C291.7,307.8 291.3,308.0 293.9,307.9 C296.5,307.8 296.5,308.4 298.8,307.5 C301.1,306.6 300.5,304.6 302.4,304.4 C304.3,304.2 303.7,305.9 306.0,306.6 C308.3,307.3 308.3,306.9 310.9,307.0 C313.5,307.1 313.2,307.1 315.8,306.9 C318.4,306.7 318.4,306.8 320.7,306.2 C323.0,305.6 322.5,304.6 324.3,304.8 C326.1,305.0 326.0,306.6 327.4,307.0 C328.8,307.4 328.1,306.1 329.6,306.2 C331.1,306.3 330.9,307.7 333.2,307.5 C335.5,307.3 335.5,306.1 338.1,305.3 C340.7,304.5 341.1,303.7 343.0,304.6 C344.9,305.5 343.5,308.2 345.2,308.8 C346.9,309.4 347.2,306.8 349.2,307.0 C351.2,307.2 351.0,309.1 352.8,309.7 C354.6,310.3 354.1,310.2 355.9,309.3 C357.7,308.4 357.2,307.0 359.5,306.2 C361.8,305.4 361.9,306.3 364.5,306.2 C367.1,306.1 366.8,305.8 369.4,305.7 C372.0,305.6 371.8,305.9 374.3,306.0 C376.8,306.1 376.6,305.3 378.7,306.2 C380.8,307.1 380.0,308.7 382.3,309.3 C384.6,309.9 384.9,309.5 387.2,308.4 C389.5,307.3 389.0,305.4 390.8,305.3 C392.6,305.2 391.8,307.0 393.9,307.9 C396.0,308.8 396.2,308.8 398.8,308.6 C401.4,308.4 401.7,306.5 403.7,307.3 C405.7,308.1 404.6,310.0 406.4,311.5 C408.2,313.0 408.1,313.0 410.4,312.8 C412.7,312.6 412.8,312.1 414.9,310.6 C417.0,309.1 416.4,307.3 418.4,307.0 C420.4,306.7 420.4,307.6 422.4,309.3 C424.4,311.0 423.8,311.7 426.0,313.3 C428.2,314.9 428.1,314.8 430.5,315.3 C432.9,315.8 432.9,315.7 434.9,315.3 C436.9,314.9 436.9,313.6 438.1,313.8 C439.3,314.0 439.0,314.3 439.5,316.1 C440.0,317.9 439.0,318.5 439.9,320.5 C440.8,322.5 441.0,322.2 443.0,323.6 C445.0,325.0 445.2,324.6 447.5,325.9 C449.8,327.2 449.4,328.6 451.5,328.5 C453.6,328.4 453.5,327.2 455.5,325.4 C457.5,323.6 457.0,323.0 459.1,321.9 C461.2,320.8 461.2,321.2 463.5,321.4 C465.8,321.6 466.4,323.9 467.6,322.7 C468.8,321.5 466.9,317.7 468.0,316.9 C469.1,316.1 469.7,319.2 471.6,319.6 C473.5,320.0 473.7,320.0 475.1,318.3 C476.5,316.6 475.5,315.5 476.9,313.4 C478.3,311.3 478.3,311.1 480.5,310.3 C482.7,309.5 483.3,310.4 485.0,310.3 C486.7,310.2 486.0,308.9 486.7,309.8 C487.4,310.7 486.4,313.3 487.6,313.8 C488.8,314.3 490.0,311.7 491.2,311.6 C492.4,311.5 491.3,311.7 492.1,313.4 C492.9,315.1 492.6,316.1 494.3,317.8 C496.0,319.5 496.9,317.7 498.3,319.6 C499.7,321.5 498.2,323.3 499.7,325.0 C501.2,326.7 502.1,324.8 504.1,325.9 C506.1,327.0 505.9,326.5 507.2,329.1 C508.5,331.7 508.0,335.0 509.0,335.5 C510.0,336.0 510.1,333.4 510.8,330.9 C511.5,328.4 511.0,328.4 511.7,326.0 C512.4,323.6 512.4,321.9 513.5,322.0 C514.6,322.1 514.6,323.9 515.7,326.4 C516.8,328.9 516.1,330.1 517.5,331.3 C518.9,332.5 519.6,332.2 521.1,330.9 C522.6,329.6 522.5,328.9 523.3,326.4 C524.1,323.9 523.6,324.1 524.2,321.5 C524.8,318.9 524.8,319.2 525.5,316.6 C526.2,314.0 525.7,312.0 526.9,311.7 C528.1,311.4 528.5,313.4 530.0,315.5 C531.5,317.6 531.2,317.6 532.7,319.7 C534.2,321.8 534.0,322.5 535.8,323.3 C537.6,324.1 538.1,321.5 539.3,322.8 C540.5,324.1 539.0,327.5 540.2,328.2 C541.4,328.9 541.9,326.7 543.8,325.5 C545.7,324.3 545.4,323.3 547.4,323.7 C549.4,324.1 549.3,326.9 551.4,326.9 C553.5,326.9 553.3,325.2 555.4,323.7 C557.5,322.2 557.4,320.7 559.4,321.1 C561.4,321.5 560.9,323.4 563.0,325.1 C565.1,326.8 565.9,325.4 567.4,327.3 C568.9,329.2 567.6,329.7 568.5,332.2 C569.4,334.7 569.2,334.3 570.6,336.7 C572.0,339.1 572.5,341.0 573.7,341.1 C574.9,341.2 574.4,339.6 575.0,337.1 C575.6,334.6 575.2,334.4 575.9,331.8 C576.6,329.2 576.4,329.0 577.7,327.3 C579.0,325.6 579.1,324.6 580.8,325.3 C582.5,326.0 582.3,327.8 584.0,330.0 C585.7,332.2 585.2,332.0 587.1,333.7 C589.0,335.4 589.9,336.8 591.2,336.2 C592.5,335.6 591.3,332.8 592.0,331.3 C592.7,329.8 592.7,329.4 593.8,330.4 C594.9,331.4 595.1,332.3 596.1,334.9 C597.1,337.5 596.6,338.1 597.4,340.2 C598.2,342.3 598.4,343.5 599.2,342.9 C600.0,342.3 599.9,340.7 600.5,338.0 C601.1,335.3 600.8,335.6 601.4,332.7 C602.0,329.8 601.3,328.3 602.7,327.3 C604.1,326.3 604.6,327.9 606.8,329.1 C609.0,330.3 609.1,332.5 610.8,331.8 C612.5,331.1 611.8,328.9 613.0,326.4 C614.2,323.9 613.9,323.9 615.2,322.4 C616.5,320.9 617.0,319.5 617.9,320.6 C618.8,321.7 618.2,323.7 618.4,326.4 C618.6,329.1 617.5,329.0 618.8,330.9 C620.1,332.8 621.5,331.6 623.3,333.5 C625.1,335.4 624.5,335.3 625.5,337.9 C626.5,340.5 626.1,340.6 627.1,343.1 C628.1,345.6 628.1,345.2 629.3,347.4 C630.5,349.6 630.5,349.0 631.5,351.3 C632.5,353.6 632.4,353.6 633.1,356.2 C633.8,358.8 633.6,358.5 634.2,361.1 C634.8,363.7 634.7,367.2 635.3,366.0 C635.9,364.8 635.9,360.8 636.4,356.7 C636.9,352.6 636.5,353.8 637.0,350.7 C637.5,347.6 637.5,345.3 638.1,345.2 C638.7,345.1 638.5,347.6 639.1,350.2 C639.7,352.8 639.2,352.8 640.2,355.1 C641.2,357.4 641.5,356.9 643.0,358.9 C644.5,360.9 644.4,362.7 645.7,362.7 C647.0,362.7 647.0,361.2 647.9,358.9 C648.8,356.6 648.6,356.6 649.0,354.0 C649.4,351.4 649.0,351.6 649.5,349.1 C650.0,346.6 650.2,344.7 650.9,344.5 C651.6,344.3 651.5,346.1 652.3,348.5 C653.1,350.9 653.0,350.8 653.9,353.4 C654.8,356.0 654.9,355.8 655.6,358.4 C656.3,361.0 656.0,360.5 656.7,363.3 C657.4,366.1 657.6,369.7 658.3,368.8 C659.0,367.9 659.0,365.0 659.4,360.0 C659.8,355.0 659.6,354.3 659.9,350.2 C660.2,346.1 659.9,347.3 660.5,344.7 C661.1,342.1 660.6,340.6 662.1,340.3 C663.6,340.0 663.9,341.7 666.0,343.6 C668.1,345.5 667.7,345.6 669.8,347.4 C671.9,349.2 672.0,351.2 673.7,350.5 C675.4,349.8 675.1,347.7 676.0,344.9 C676.9,342.1 676.6,342.5 677.1,340.0 C677.6,337.5 677.2,338.2 677.7,335.6 C678.2,333.0 678.2,333.0 678.8,330.2 C679.4,327.4 678.7,327.4 679.8,325.2 C680.9,323.0 681.6,324.0 683.1,322.0 C684.6,320.0 684.1,317.5 685.3,317.6 C686.5,317.7 686.5,319.9 687.5,322.5 C688.5,325.1 688.4,324.9 689.1,327.4 C689.8,329.9 689.3,329.3 690.2,331.8 C691.1,334.3 691.1,334.4 692.4,336.7 C693.7,339.0 694.0,338.3 695.2,340.6 C696.4,342.9 696.1,346.9 696.8,345.3 C697.5,343.7 697.5,335.9 697.9,334.5 C698.3,333.1 697.7,337.5 698.4,340.0 C699.1,342.5 699.6,344.1 700.6,343.8 C701.6,343.5 701.4,341.4 702.3,338.9 C703.2,336.4 702.9,334.8 703.9,334.5 C704.9,334.2 705.6,335.7 706.1,337.8 C706.6,339.9 705.3,343.5 705.6,342.2 C705.9,340.9 706.5,336.6 707.2,332.9 C707.9,329.2 707.3,328.8 708.3,328.5 C709.3,328.2 709.5,329.2 711.0,331.8 C712.5,334.4 712.9,337.8 713.8,338.4 C714.7,339.0 714.0,336.6 714.3,334.0 C714.6,331.4 714.0,329.8 714.9,328.5 C715.8,327.2 716.2,327.8 717.6,329.1 C719.0,330.4 718.8,332.5 720.3,333.4 C721.8,334.3 722.2,334.1 723.1,332.4 C724.0,330.7 723.3,330.4 723.6,326.9 C723.9,323.4 723.9,322.6 724.2,319.2 C724.5,315.8 723.7,315.2 724.7,314.3 C725.7,313.4 727.0,314.1 728.0,316.0 C729.0,317.9 727.5,318.9 728.5,321.4 C729.5,323.9 730.0,323.3 731.8,325.2 C733.6,327.1 733.9,326.3 735.1,328.5 C736.3,330.7 735.2,331.1 736.2,333.4 C737.2,335.7 737.6,337.3 738.9,337.3 C740.2,337.3 740.1,335.9 741.1,333.4 C742.1,330.9 741.9,330.7 742.8,328.0 C743.7,325.3 743.8,325.7 744.4,323.1 C745.0,320.5 743.8,320.3 744.9,318.2 C746.0,316.1 746.3,316.6 748.6,315.1 C750.9,313.6 750.9,313.8 753.5,312.7 C756.1,311.6 756.8,312.6 758.4,310.8 C760.0,309.0 758.0,307.8 759.6,305.9 C761.2,304.0 762.7,303.2 764.5,303.5 C766.3,303.8 765.6,305.4 766.4,307.2 C767.2,309.0 766.5,310.5 767.6,310.2 C768.7,309.9 768.6,307.4 770.7,305.9 C772.8,304.4 773.5,304.2 775.6,304.7 C777.7,305.2 776.8,308.3 778.6,307.8 C780.4,307.3 780.5,303.6 782.3,302.9 C784.1,302.2 783.8,304.7 785.4,305.3 C787.0,305.9 786.5,306.1 788.4,305.3 C790.3,304.5 790.6,303.1 792.7,302.3 C794.8,301.5 794.1,302.5 796.4,302.3 C798.7,302.1 798.7,301.9 801.3,301.6 C803.9,301.3 803.6,301.3 806.2,301.0 C808.8,300.7 808.5,300.7 811.1,300.6 C813.7,300.5 812.1,300.7 816.0,300.8 C819.9,300.9 819.2,300.9 825.8,300.8 C832.4,300.7 835.7,300.7 840.6,300.6 C845.5,300.5 843.1,300.6 844.0,300.6" fill="none" stroke="#1f4591" stroke-width="2.1" stroke-linejoin="round" stroke-linecap="round" clip-path="url(#below)"/>
  <text x="854" y="309" font-family="Liberation Sans" font-size="14.5" fill="#555">100</text>
  <text x="854" y="422" font-family="Liberation Sans" font-size="14.5" fill="#555">50</text>
</svg>
</body></html>
